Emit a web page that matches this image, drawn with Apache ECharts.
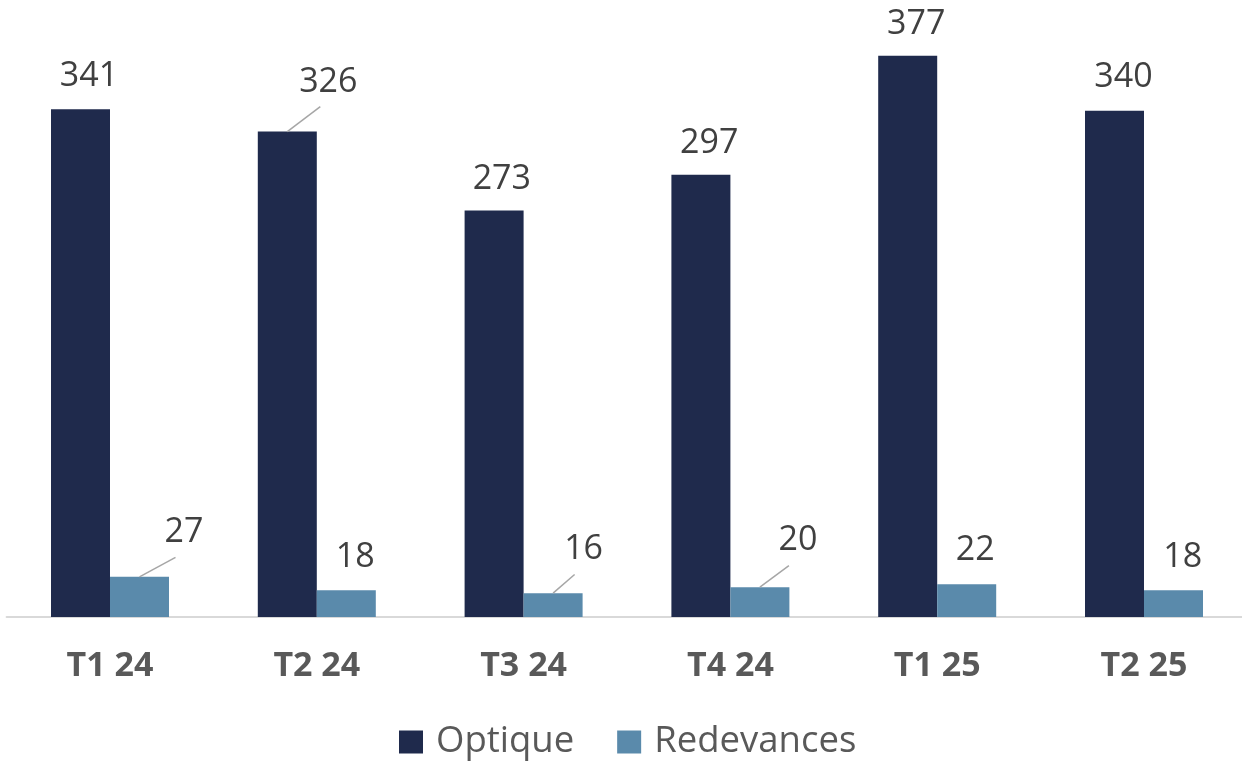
<!DOCTYPE html>
<html>
<head>
<meta charset="utf-8">
<script src="https://cdn.jsdelivr.net/npm/echarts@6/dist/echarts.min.js"></script>
<style>
html,body{margin:0;padding:0;background:#fff;}
#chart{width:1242px;height:761px;}
</style>
</head>
<body>
<div id="chart"></div>
<script>
const categories = ['T1 24', 'T2 24', 'T3 24', 'T4 24', 'T1 25', 'T2 25'];
const optique = [341, 326, 273, 297, 377, 340];
const redevances = [27, 18, 16, 20, 22, 18];

// label placement (manually moved labels in the original)
const optiqueLabelShift = [[8.5, -16], [41, -32.5], [7.7, -14], [8.3, -14.6], [8.5, -14.5], [9, -16.5]];
const redevLabelShift = [[44.5, -27.5], [9, -15.5], [30.5, -27], [38, -29.5], [8.5, -17], [9.3, -16]];
// leader lines: [dx, dy] from bar top centre, or null
const optiqueLeader = [null, [33, -25], null, null, null, null];
const redevLeader = [[36, -19.5], null, [21.5, -18.7], [29, -21.5], null, null];

const FONT = '"Open Sans", "Noto Sans", sans-serif';
const BAR_W = 59;

const labelStyle = {
  show: true,
  position: 'top',
  distance: 0,
  fontFamily: FONT,
  fontSize: 34,
  lineHeight: 34,
  color: '#404040'
};

// leader line data: [categoryIndex, value, side(-1 left bar / +1 right bar), dx, dy]
const leaderData = [];
optique.forEach((v, i) => { if (optiqueLeader[i]) leaderData.push([i, v, -1, optiqueLeader[i][0], optiqueLeader[i][1]]); });
redevances.forEach((v, i) => { if (redevLeader[i]) leaderData.push([i, v, 1, redevLeader[i][0], redevLeader[i][1]]); });

const chart = echarts.init(document.getElementById('chart'), null, { renderer: 'canvas' });
chart.setOption({
  animation: false,
  backgroundColor: '#ffffff',
  grid: { left: 6.6, width: 1240.8, top: 21.4, bottom: 144, containLabel: false, outerBoundsMode: 'none' },
  legend: {
    left: 399,
    top: 723.5,
    padding: 0,
    itemWidth: 24,
    itemHeight: 23,
    itemGap: 43,
    icon: 'rect',
    textStyle: { fontFamily: FONT, fontSize: 36.5, lineHeight: 36, color: '#595959', padding: [0, 0, 0, 8] },
    data: ['Optique', 'Redevances']
  },
  xAxis: {
    type: 'category',
    data: categories,
    axisLine: { show: true, lineStyle: { color: '#d9d9d9', width: 2 } },
    axisTick: { show: false },
    axisLabel: { fontFamily: FONT, fontSize: 34, lineHeight: 34, fontWeight: 'bold', color: '#595959', margin: 32 }
  },
  yAxis: {
    type: 'value',
    min: 0,
    max: 400,
    show: false,
    splitLine: { show: false }
  },
  series: [
    {
      name: 'Optique',
      type: 'bar',
      data: optique,
      barWidth: BAR_W,
      barGap: '0%',
      itemStyle: { color: '#1f2a4c' },
      label: labelStyle,
      labelLayout: function (p) { const s = optiqueLabelShift[p.dataIndex]; return { dx: s[0], dy: s[1] }; }
    },
    {
      name: 'Redevances',
      type: 'bar',
      data: redevances,
      barWidth: BAR_W,
      barGap: '0%',
      itemStyle: { color: '#5a8aab' },
      label: labelStyle,
      labelLayout: function (p) { const s = redevLabelShift[p.dataIndex]; return { dx: s[0], dy: s[1] }; }
    },
    {
      name: 'leaders',
      type: 'custom',
      silent: true,
      z: 5,
      data: leaderData,
      renderItem: function (params, api) {
        const pt = api.coord([api.value(0), api.value(1)]);
        const x0 = pt[0] + api.value(2) * BAR_W / 2;
        const y0 = pt[1];
        return {
          type: 'line',
          shape: { x1: x0, y1: y0, x2: x0 + api.value(3), y2: y0 + api.value(4) },
          style: { stroke: '#a6a6a6', lineWidth: 1.5 }
        };
      }
    }
  ]
});
</script>
</body>
</html>
